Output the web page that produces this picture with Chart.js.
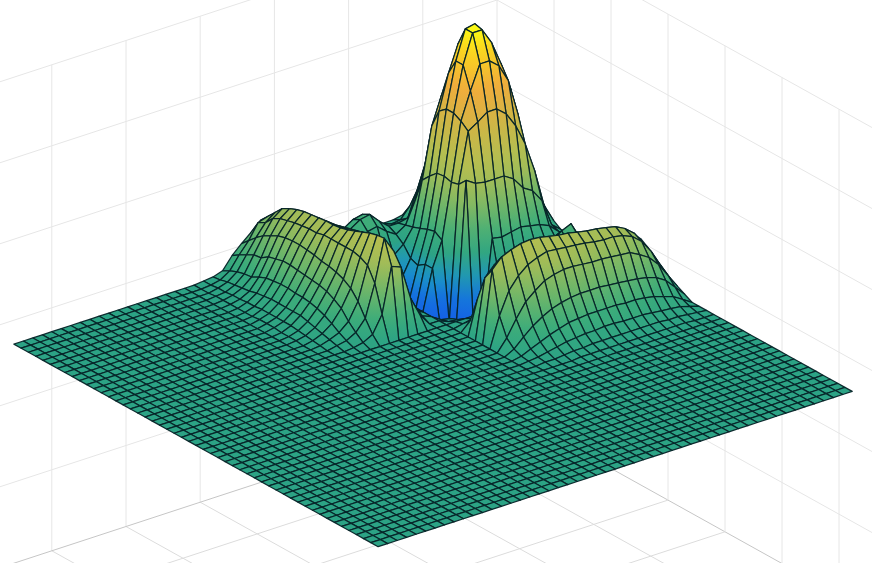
<!DOCTYPE html>
<html>
<head>
<meta charset="utf-8">
<style>
  html, body { margin: 0; padding: 0; background: #fff; }
  canvas { display: block; }
</style>
<script src="https://cdn.jsdelivr.net/npm/chart.js@4"></script>
</head>
<body>
<canvas id="surface" width="872" height="563"></canvas>
<script>
'use strict';

// box ticks, in axis units
const xTicks = [0, 1, 2, 3, 4, 5, 6, 7];
const yTicks = [0, 1, 2, 3, 4, 5, 6, 7];
const zTicks = [0, 1, 2, 3, 4, 5, 6];

const meshCells = 50;

// one row per x index, trailing nodes are flat (0)
const surfaceRows = [
  [0,0,0,2,5,8,15,21,12,5,0,0,0,0,0,0,0,0,0, 25,36,35,30,24,17,12,8,4,0,0,0,0],
  [0,0,0,3,10,20,45,55,34,23,8,5,3,8,10,6,2,1,0, 15,22,26,30,32,33,28,22,14,6,3,1,0],
  [0,0,3,12,30,60,92,98,72,61,35,14,4,16,28,20,8,3,0, 0,3,10,22,38,48,45,36,24,12,6,2,0],
  [0,2,10,30,60,100,130,138,117,91,48,18,2,14,24,16,6,2,0, 0,4,14,32,52,62,58,46,30,15,7,3,1],
  [0,3,20,50,85,130,160,166,153,112,54,20,-2,8,16,12,5,2,0, 0,4,18,40,60,70,66,52,33,18,8,3,1],
  [0,5,30,65,105,155,185,190,171,127,66,22,-10,-30,-15,-5,-2,0,0, 0,5,20,44,66,75,70,57,35,20,9,4,1],
  [8,38,75,115,150,185,208,206,179,135,72,20,-15,-50,-30,-18,-10,-4,0, 0,5,22,46,68,77,72,58,36,21,10,4,1],
  [10,44,80,117,152,187,206,206,179,135,72,18,-15,-52,-45,-32,-20,-10,-3, 0,5,22,48,70,79,72,59,37,21,10,4,1],
  [8,27,63,105,134,161,177,177,155,128,72,20,-18,-52,-48,-35,-22,-12,-4, 0,5,22,48,71,80,73,60,38,22,10,4,1],
  [2,15,35,62,107,126,132,132,128,122,74,-61,-57,-53,-49,-45,-41,-37,-33, 0,5,24,50,72,82,75,60,39,22,11,4,1],
  [0,4,10,31,56,64,71,72,70,72,80,-58,-54,-50,-46,-42,-38,-34,-30, 0,5,24,50,74,84,76,61,39,22,11,4,1],
  [0,3,8,10,12,15,18,20,15,-63,-59,-55,-51,-47,-43,-39,-35,-31,-27, 0,5,24,52,75,85,77,62,39,22,10,4,1],
  [0,6,8,4,-2,-12,-15,-10,-10,-60,-56,-52,-48,-44,-40,-36,-32,-28,-24, 0,5,25,52,76,87,78,62,38,21,10,4,1],
  [0,14,16,10,-10,-30,-50,-52,-50,-57,-53,-49,-45,-41,-37,-33,-29,-25,-21, 0,5,25,54,78,89,79,60,36,20,9,3,1],
  [0,22,26,18,-5,-35,-55,-60,-58,-54,-50,-46,-42,-38,-34,-30,-26,-22,-15, 0,5,26,55,80,90,76,57,33,17,8,3,1],
  [0,20,24,16,-8,-35,-50,-55,-54,-51,-47,-43,-39,-35,-31,-27,-23,-18,-10, 0,5,26,55,80,89,72,50,28,14,6,2,0],
  [0,14,18,10,-10,-30,-42,-46,-46,-48,-44,-40,-36,-32,-28,-24,-20,-14,-8, 0,5,24,50,76,86,64,42,22,10,4,1,0],
  [0,8,8,3,-10,-22,-32,-36,-38,-36,-34,-30,-30,-28,-24,-20,-14,-8,-5, 0,4,16,42,70,82,52,28,14,6,2,1,0],
  [0,2,2,0,-6,-12,-20,-22,-24,-24,-22,-20,-20,-18,-16,-14,-10,-6,-4, 0,2,9,35,60,72,30,12,5,2,1,0,0],
  [],
  [15,12,6,5,6,7,8,8,8,8,8,8,8,8,8,8,6,4,0],
  [30,24,14,14,18,20,22,22,24,24,24,25,25,25,25,24,22,20,12],
  [40,36,30,30,36,42,45,46,48,50,50,52,52,52,52,50,48,44,32],
  [45,48,48,52,58,62,65,68,70,72,74,76,78,80,80,80,80,78,66],
  [43,51,59,67,71,74,76,77,78,79,79,80,82,85,88,91,93,94,70],
  [34,48,52,60,64,66,68,69,70,70,72,72,72,72,72,70,66,52,25],
  [26,33,40,46,50,54,56,57,57,56,55,53,52,50,47,42,33,20,8],
  [17,22,26,30,31,36,38,40,40,39,38,37,36,34,30,25,16,9,3],
  [5,9,12,14,15,19,22,23,24,24,23,23,22,20,17,13,8,4,1],
  [2,3,5,6,7,8,10,11,12,12,12,12,12,10,8,6,4,2,0],
  [1,1,2,2,3,3,4,4,5,5,5,5,5,4,3,2,1,0,0],
  [0,0,0,1,1,1,1,1,1,2,2,2,1,1,1,0,0,0,0]
];

// colour ramp, height -> rgb
const rampHeights = [-60, -40, -25, -10, 0, 20, 45, 70, 90, 120, 155, 190, 208];
const rampColors = [
  [20,95,230], [20,110,225], [25,140,205], [35,155,170], [44,163,133],
  [60,172,122], [110,182,105], [160,188,88], [180,190,80], [205,182,70],
  [240,172,60], [250,215,30], [250,250,20]
];

// view of the box
const floorCorner = [497, 405];
const xStep = [-74.2, 24.3];
const yStep = [57, 31.7];
const zStep = 81;
const meshOrigin = [0.523, 0.523, 3.03];
const meshStep = 0.1278;

function project(x, y, z) {
  return {
    x: floorCorner[0] + x * xStep[0] + y * yStep[0],
    y: floorCorner[1] + x * xStep[1] + y * yStep[1] - z * zStep
  };
}

function heightAt(i, j) {
  return (surfaceRows[i] || [])[j] || 0;
}

function meshNode(i, j) {
  return project(
    meshOrigin[0] + i * meshStep,
    meshOrigin[1] + j * meshStep,
    meshOrigin[2] + heightAt(i, j) / zStep
  );
}

function rampColor(h) {
  let k = 0;
  while (k < rampHeights.length - 2 && h > rampHeights[k + 1]) k++;
  let t = (h - rampHeights[k]) / (rampHeights[k + 1] - rampHeights[k]);
  t = Math.max(0, Math.min(1, t));
  const c = rampColors[k].map((v, n) => Math.round(v + (rampColors[k + 1][n] - v) * t));
  return 'rgb(' + c.join(',') + ')';
}

// tall cells shade from their highest corner to their lowest one
function cellFill(i, j) {
  const corners = [[i, j], [i + 1, j], [i, j + 1], [i + 1, j + 1]];
  const heights = corners.map(c => heightAt(c[0], c[1]));
  const hi = Math.max(...heights);
  const lo = Math.min(...heights);
  const flat = rampColor(heights.reduce((a, b) => a + b, 0) / 4);
  if (hi - lo < 12) {
    return flat;
  }
  const top = meshNode(...corners[heights.indexOf(hi)]);
  const bottom = meshNode(...corners[heights.indexOf(lo)]);
  return function(ctx) {
    const sx = ctx.chart.scales.x;
    const sy = ctx.chart.scales.y;
    const coords = [
      sx.getPixelForValue(top.x), sy.getPixelForValue(top.y),
      sx.getPixelForValue(bottom.x), sy.getPixelForValue(bottom.y)
    ];
    // scales have no size yet on the first pass
    if (!coords.every(Number.isFinite)) {
      return flat;
    }
    const g = ctx.chart.ctx.createLinearGradient(coords[0], coords[1], coords[2], coords[3]);
    for (let n = 0; n <= 6; n++) {
      g.addColorStop(n / 6, rampColor(hi + (lo - hi) * n / 6));
    }
    return g;
  };
}

function gridLine(from, to, color) {
  return {
    data: [from, to],
    showLine: true,
    fill: false,
    borderColor: color,
    borderWidth: 1,
    pointRadius: 0
  };
}

const datasets = [];
const xTop = xTicks[xTicks.length - 1];
const yTop = yTicks[yTicks.length - 1];
const zTop = zTicks[zTicks.length - 1];
const wallColor = '#e6e6e6';
const floorColor = '#dcdcdc';
const edgeColor = '#c6c6c6';

// walls and floor first, they sit behind everything
xTicks.forEach(x => {
  datasets.push(gridLine(project(x, 0, 0), project(x, 0, zTop), wallColor));
  datasets.push(gridLine(project(x, 0, 0), project(x, yTop, 0), x === 0 ? edgeColor : floorColor));
});
yTicks.forEach(y => {
  if (y > 0) datasets.push(gridLine(project(0, y, 0), project(0, y, zTop), wallColor));
  datasets.push(gridLine(project(0, y, 0), project(xTop, y, 0), y === 0 ? edgeColor : floorColor));
});
zTicks.forEach(z => {
  if (z === 0) return;
  datasets.push(gridLine(project(0, 0, z), project(xTop, 0, z), wallColor));
  datasets.push(gridLine(project(0, 0, z), project(0, yTop, z), wallColor));
});

// mesh cells, far corner to near corner so the nearer ones cover the farther ones
for (let i = 0; i < meshCells; i++) {
  for (let j = 0; j < meshCells; j++) {
    datasets.push({
      data: [meshNode(i, j), meshNode(i + 1, j), meshNode(i + 1, j + 1), meshNode(i, j + 1), meshNode(i, j)],
      showLine: true,
      fill: 'shape',
      backgroundColor: cellFill(i, j),
      borderColor: 'rgba(6,36,40,0.95)',
      borderWidth: 1.25,
      borderJoinStyle: 'round',
      pointRadius: 0
    });
  }
}

// Chart.js paints the first dataset last
datasets.reverse();

new Chart(document.getElementById('surface'), {
  type: 'scatter',
  data: { datasets: datasets },
  options: {
    responsive: false,
    animation: false,
    events: [],
    layout: { padding: 0 },
    plugins: { legend: { display: false }, tooltip: { enabled: false } },
    scales: {
      x: { type: 'linear', min: 0, max: 872, display: false },
      y: { type: 'linear', min: 0, max: 563, reverse: true, display: false }
    }
  }
});
</script>
</body>
</html>
